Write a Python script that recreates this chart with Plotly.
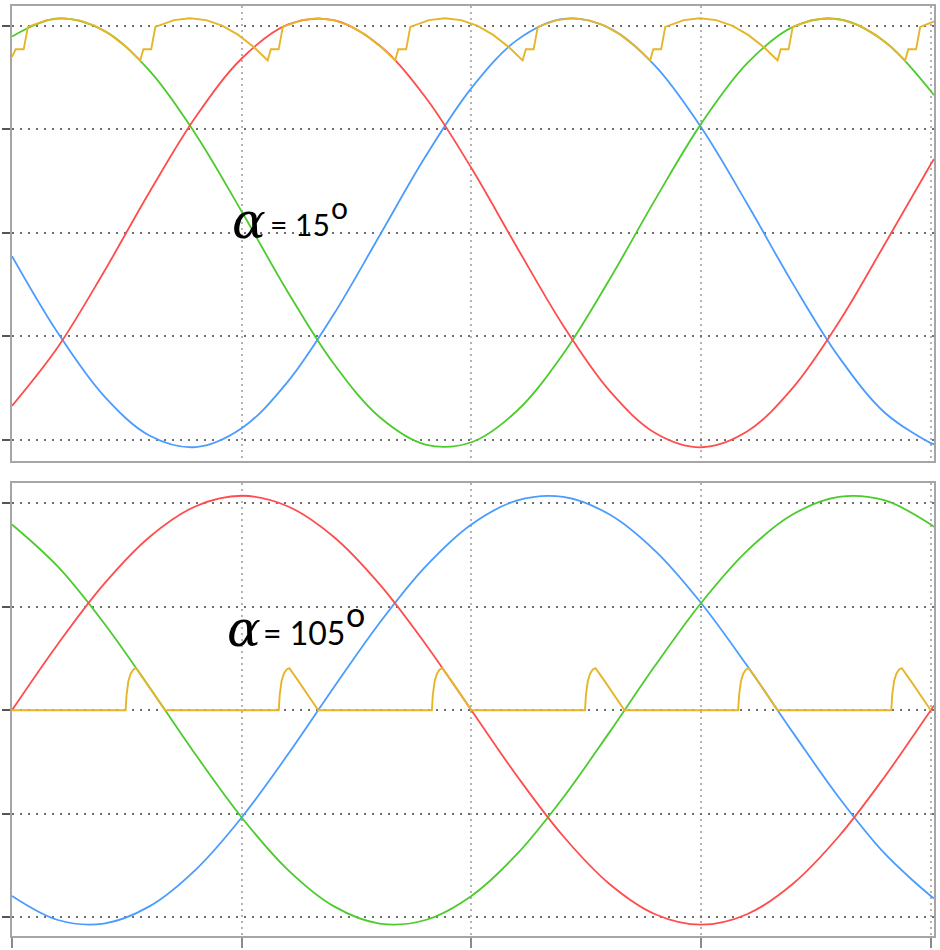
import plotly.graph_objects as go

# ---- time base (ms) ----
t_ms = [0, 1, 2, 3, 4, 5, 6, 7, 8, 9, 10, 11, 12, 13, 14, 15, 16, 17, 18, 19, 20, 20.07]

# ---- upper panel: supply phases (V) ----
top_red = [-250.9, -165.5, -56.8, 59.8, 168.1, 252.7, 301.7, 308.3, 271.5, 196.5, 93.9,
           -22.0, -134.7, -228.6, -290.2, -311.0, -288.1, -224.6, -129.5, -16.2, 99.3, 107.1]
top_blue = [-33.8, -145.4, -236.4, -294.2, -310.7, -283.4, -216.2, -118.6, -4.3, 110.5, 209.8,
            279.7, 310.1, 296.9, 242.0, 152.9, 42.4, -74.1, -180.2, -260.9, -304.9, -306.4]
top_green = [284.6, 310.8, 293.2, 234.4, 142.6, 30.8, -85.4, -189.6, -267.1, -307.0, -303.7,
             -257.7, -175.5, -68.5, 48.1, 157.9, 245.5, 298.6, 309.6, 277.1, 205.6, 199.3]

# ---- upper panel: rectified output, alpha = 15 deg ----
top_out_t = [0, 0.08, 0.255,
             0.345, 0.75, 1.10, 1.45, 1.80, 2.15, 2.50, 2.79, 2.86, 3.03,
             3.12, 3.525, 3.875, 4.225, 4.575, 4.925, 5.275, 5.565, 5.635, 5.805,
             5.895, 6.30, 6.65, 7.00, 7.35, 7.70, 8.05, 8.34, 8.41, 8.58,
             8.67, 9.075, 9.425, 9.775, 10.125, 10.475, 10.825, 11.115, 11.185, 11.355,
             11.445, 11.85, 12.20, 12.55, 12.90, 13.25, 13.60, 13.89, 13.96, 14.13,
             14.22, 14.625, 14.975, 15.325, 15.675, 16.025, 16.375, 16.665, 16.735, 16.905,
             16.995, 17.40, 17.75, 18.10, 18.45, 18.80, 19.15, 19.44, 19.51, 19.68,
             19.77, 20.07]
top_out_v = [255, 266, 266,
             298.5, 308.3, 311, 308.3, 300.3, 286.9, 268.6, 249.9, 266, 266,
             298.5, 308.3, 311, 308.3, 300.3, 286.9, 268.6, 249.9, 266, 266,
             298.5, 308.3, 311, 308.3, 300.3, 286.9, 268.6, 249.9, 266, 266,
             298.5, 308.3, 311, 308.3, 300.3, 286.9, 268.6, 249.9, 266, 266,
             298.5, 308.3, 311, 308.3, 300.3, 286.9, 268.6, 249.9, 266, 266,
             298.5, 308.3, 311, 308.3, 300.3, 286.9, 268.6, 249.9, 266, 266,
             298.5, 308.3, 311, 308.3, 300.3, 286.9, 268.6, 249.9, 266, 266,
             298.5, 306.4]

# ---- lower panel: supply phases (V) ----
bot_red = [0, 96.1, 182.8, 251.6, 295.8, 311.0, 295.8, 251.6, 182.8, 96.1, 0,
           -96.1, -182.8, -251.6, -295.8, -311.0, -295.8, -251.6, -182.8, -96.1, 0, 6.8]
bot_blue = [-269.3, -304.2, -309.3, -284.1, -231.1, -155.5, -64.7, 32.5, 126.5, 208.1, 269.3,
            304.2, 309.3, 284.1, 231.1, 155.5, 64.7, -32.5, -126.5, -208.1, -269.3, -272.6]
bot_green = [269.3, 208.1, 126.5, 32.5, -64.7, -155.5, -231.1, -284.1, -309.3, -304.2, -269.3,
             -208.1, -126.5, -32.5, 64.7, 155.5, 231.1, 284.1, 309.3, 304.2, 269.3, 265.8]

# ---- lower panel: rectified output, alpha = 105 deg ----
bot_out_t = [0,
             2.473, 2.493, 2.533, 2.583, 2.643, 2.703, 2.883, 3.083, 3.333,
             5.807, 5.827, 5.867, 5.917, 5.977, 6.037, 6.217, 6.417, 6.667,
             9.14, 9.16, 9.20, 9.25, 9.31, 9.37, 9.55, 9.75, 10.0,
             12.473, 12.493, 12.533, 12.583, 12.643, 12.703, 12.883, 13.083, 13.333,
             15.807, 15.827, 15.867, 15.917, 15.977, 16.037, 16.217, 16.417, 16.667,
             19.14, 19.16, 19.20, 19.25, 19.31, 19.37, 19.55, 19.75, 20.0]
bot_out_v = [0,
             0, 22, 42, 53, 59, 61, 44, 24, 0,
             0, 22, 42, 53, 59, 61, 44, 24, 0,
             0, 22, 42, 53, 59, 61, 44, 24, 0,
             0, 22, 42, 53, 59, 61, 44, 24, 0,
             0, 22, 42, 53, 59, 61, 44, 24, 0,
             0, 22, 42, 53, 59, 61, 44, 24, 0]

grid_y_vals = [-300, -150, 0, 150, 300]
grid_x_vals = [0, 5, 10, 15, 20]

RED = "#ff4d4d"
GREEN = "#4ccb2c"
BLUE = "#4a9cff"
YELLOW = "#e6b52a"

fig = go.Figure()


def add_line(xs, ys, color, width, xa, ya, shape="linear"):
    fig.add_trace(go.Scatter(x=xs, y=ys, mode="lines",
                             line=dict(color=color, width=width, shape=shape,
                                       smoothing=1.0 if shape == "spline" else None),
                             xaxis=xa, yaxis=ya, hoverinfo="skip",
                             showlegend=False))


add_line(t_ms, top_blue, BLUE, 1.8, "x", "y", "spline")
add_line(t_ms, top_green, GREEN, 1.8, "x", "y", "spline")
add_line(t_ms, top_red, RED, 1.8, "x", "y", "spline")
add_line(top_out_t, top_out_v, YELLOW, 1.9, "x", "y")

add_line(t_ms, bot_blue, BLUE, 1.8, "x2", "y2", "spline")
add_line(t_ms, bot_green, GREEN, 1.8, "x2", "y2", "spline")
add_line(t_ms, bot_red, RED, 1.8, "x2", "y2", "spline")
add_line(bot_out_t, bot_out_v, YELLOW, 1.9, "x2", "y2")

x_common = dict(range=[0, 20.07], tickvals=grid_x_vals, showticklabels=False,
                showgrid=True, gridcolor="#b4b4b4", gridwidth=1.5, griddash="2px,4px",
                showline=True, mirror=True, linecolor="#a6a6a6", linewidth=2,
                zeroline=False)
y_common = dict(tickvals=grid_y_vals, showticklabels=False,
                ticks="outside", ticklen=8, tickwidth=2, tickcolor="#555555",
                showgrid=True, gridcolor="#6e6e6e", gridwidth=1.5, griddash="2px,6px",
                showline=True, mirror=True, linecolor="#a6a6a6", linewidth=2,
                zeroline=False)

fig.update_layout(
    width=940, height=950,
    margin=dict(l=8, r=5, t=4, b=11),
    paper_bgcolor="white", plot_bgcolor="white",
    showlegend=False,
    xaxis=dict(**x_common, anchor="y", domain=[0, 1], ticks=""),
    xaxis2=dict(**x_common, anchor="y2", domain=[0, 1], ticks="outside",
                ticklen=10, tickwidth=2, tickcolor="#8a8a8a"),
    yaxis=dict(**y_common, anchor="x", domain=[0.5112, 1], range=[-330.3, 328.8]),
    yaxis2=dict(**y_common, anchor="x2", domain=[0, 0.4866], range=[-327.4, 328.8]),
)

alpha_font = dict(family="DejaVu Serif", size=50, color="black")

annotations = [
    dict(x=5.15, y=17, xref="x", yref="y", text="<i>α</i>", showarrow=False,
         font=alpha_font, xanchor="center", yanchor="middle"),
    dict(x=5.58, y=13, xref="x", yref="y", text="= 15", showarrow=False,
         font=dict(family="Lato", size=30, color="black"), xanchor="left", yanchor="middle"),
    dict(x=7.13, y=38, xref="x", yref="y", text="o", showarrow=False,
         font=dict(family="Lato", size=30, color="black"), xanchor="center", yanchor="middle"),
    dict(x=5.04, y=118, xref="x2", yref="y2", text="<i>α</i>", showarrow=False,
         font=alpha_font, xanchor="center", yanchor="middle"),
    dict(x=5.42, y=113, xref="x2", yref="y2", text="= 105", showarrow=False,
         font=dict(family="Lato", size=32, color="black"), xanchor="left", yanchor="middle"),
    dict(x=7.48, y=140, xref="x2", yref="y2", text="o", showarrow=False,
         font=dict(family="Lato", size=34, color="black"), xanchor="center", yanchor="middle"),
]
fig.update_layout(annotations=annotations)

fig.write_html("out.html")
